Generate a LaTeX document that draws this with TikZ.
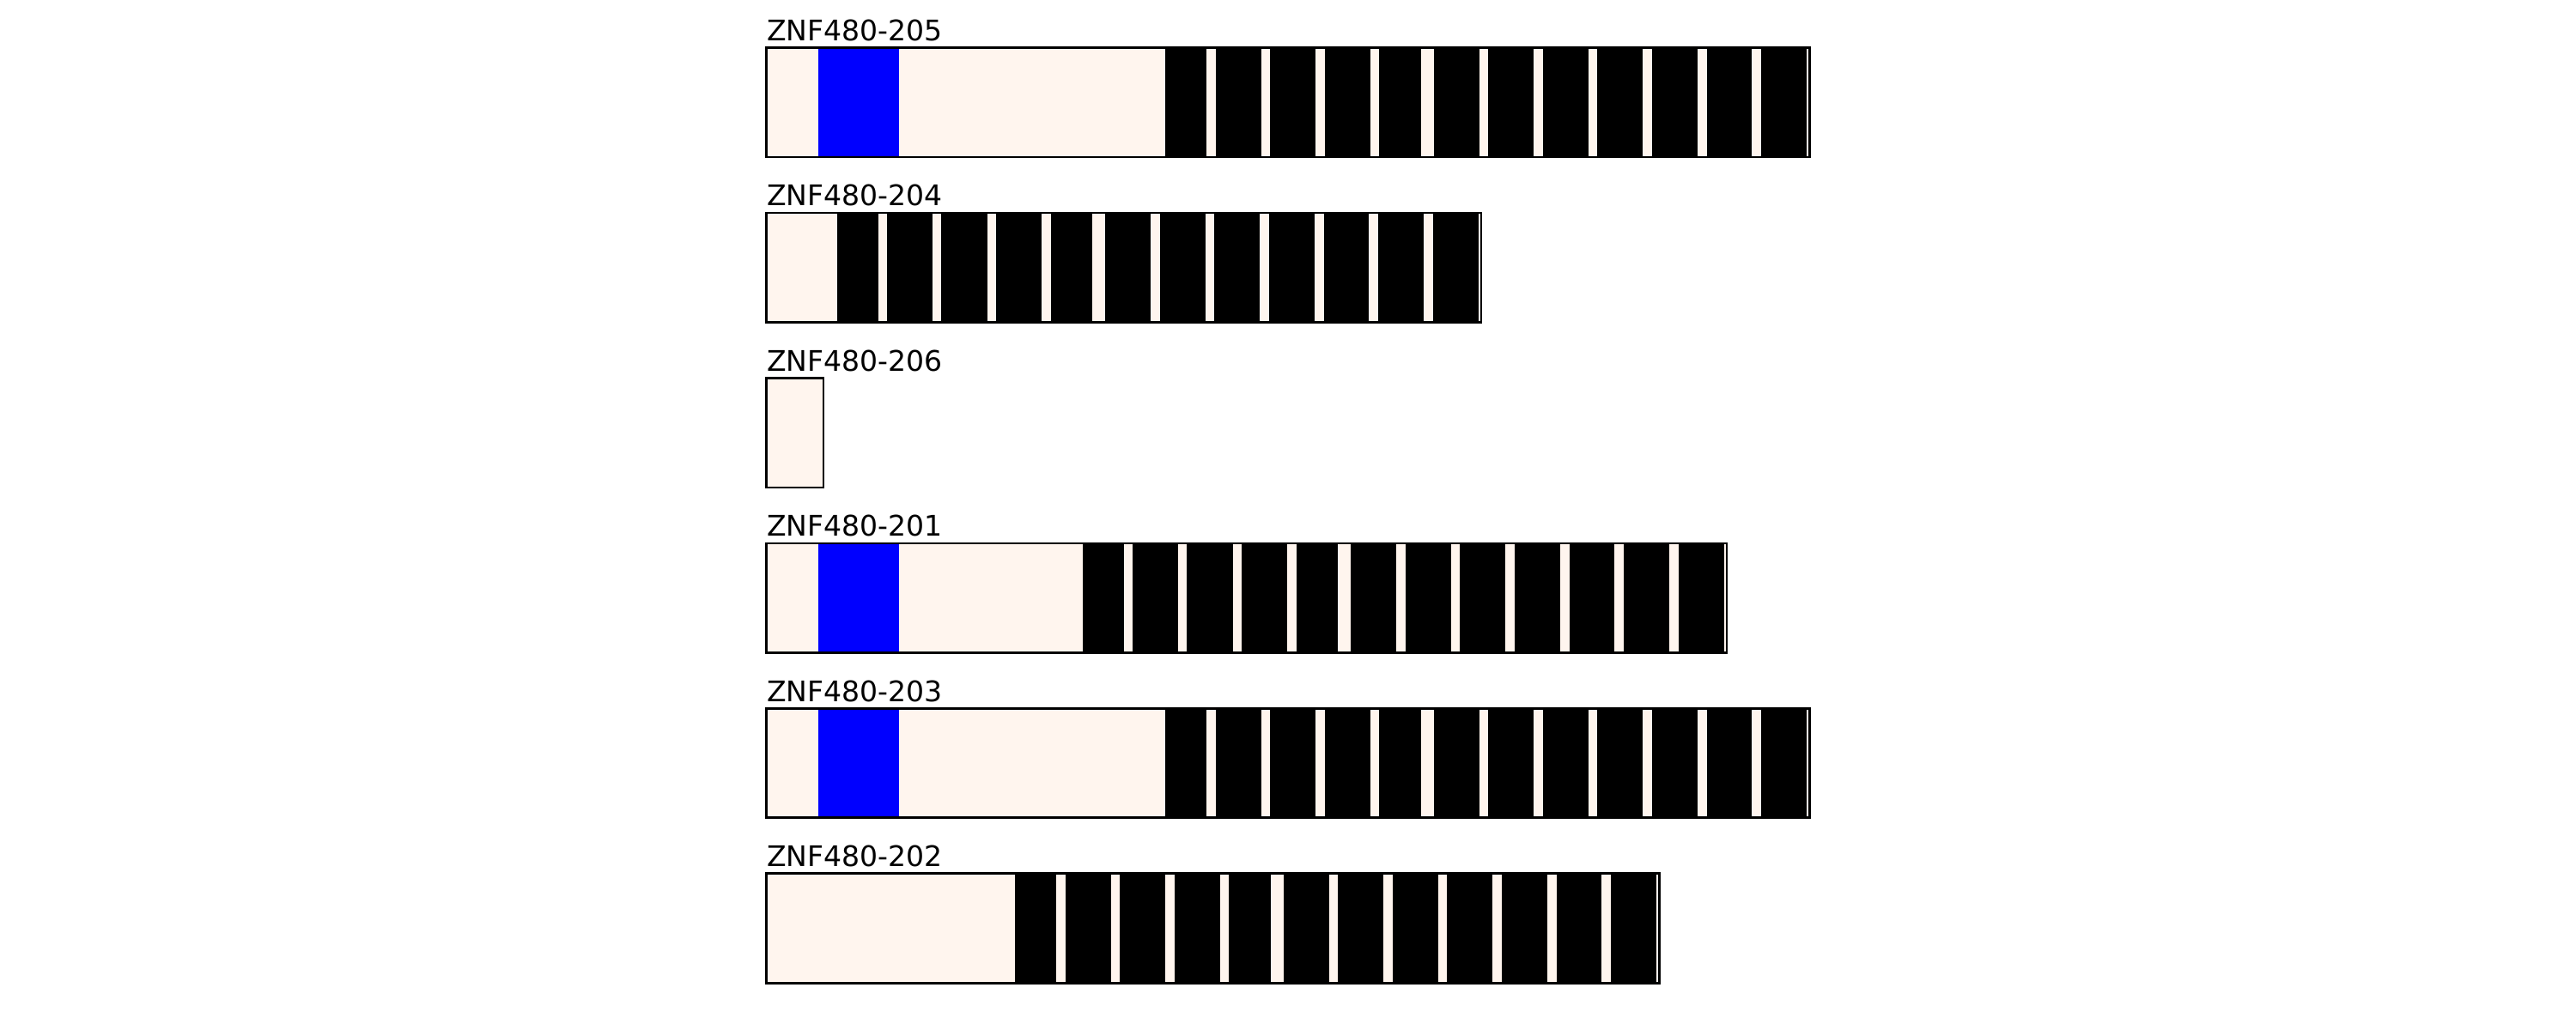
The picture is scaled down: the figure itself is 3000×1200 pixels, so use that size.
\documentclass[tikz,border=0pt]{standalone}
\usepackage{fontspec}
\setmainfont{DejaVu Sans}
\definecolor{shell}{HTML}{FFF5EE}
\definecolor{dom}{HTML}{0000FF}
\newcommand\zfblocks{0/48,58.8/111.8,121.8/175.3,185.6/238.6,249.2/297.7,312.8/365.5,376.1/429,439.6/492.6,503.2/556.1,567/619.5,630.6/683.3,694.2/747.1}
% #1 id, #2 top, #3 right edge, #4 start of zinc-finger region, #5 draw blue (1/0)
\newcommand\txrow[5]{%
  \fill[shell] (892.5,#2) rectangle (#3,#2+127.5);
  \ifnum#5=1 \fill[dom] (953,#2) rectangle (1046.5,#2+127.5);\fi
  \foreach \a/\b in \zfblocks {\fill[black] (#4+\a,#2) rectangle (#4+\b,#2+127.5);}
  \draw[frame] (892.5,#2) rectangle (#3,#2+127.5);
  \node[lbl] (l#1) at (892.5,#2-8.3) {ZNF480-#1};
}
\begin{document}
\begin{tikzpicture}[x=0.01cm,y=-0.01cm,
  lbl/.style={anchor=base west,inner sep=0pt,font=\fontsize{9.4}{11}\selectfont},
  frame/.style={draw=black,line width=0.75pt}]
\useasboundingbox (0,0) rectangle (3000,1200);
\txrow{205}{55.5}{2107.5}{1357}{1}
\txrow{204}{247.9}{1725}{974.5}{0}
% transcript 206: untranslated box only
\fill[shell] (892.5,440.4) rectangle (959,567.9);
\draw[frame] (892.5,440.4) rectangle (959,567.9);
\node[lbl] (l206) at (892.5,432.1) {ZNF480-206};
\txrow{201}{632.9}{2011}{1260.5}{1}
\txrow{203}{825.3}{2107.5}{1357}{1}
\txrow{202}{1017.8}{1932.5}{1182}{0}
\end{tikzpicture}
\end{document}
